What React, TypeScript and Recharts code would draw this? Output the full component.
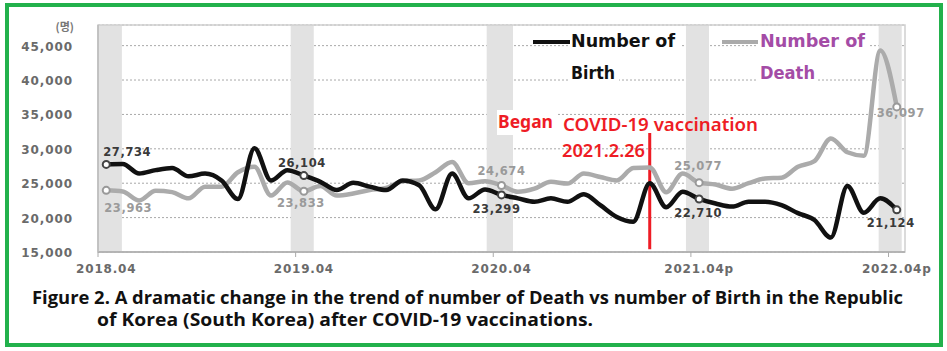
import { LineChart, Line, XAxis, YAxis, CartesianGrid, ReferenceArea, ReferenceLine } from 'recharts';

// monthly data, 2018.04 .. 2022.04 (p = provisional)
const MONTHS = [
  '2018.04', '2018.05', '2018.06', '2018.07', '2018.08', '2018.09', '2018.10', '2018.11', '2018.12', '2019.01', '2019.02', '2019.03',
  '2019.04', '2019.05', '2019.06', '2019.07', '2019.08', '2019.09', '2019.10', '2019.11', '2019.12', '2020.01', '2020.02', '2020.03',
  '2020.04', '2020.05', '2020.06', '2020.07', '2020.08', '2020.09', '2020.10', '2020.11', '2020.12', '2021.01', '2021.02', '2021.03',
  '2021.04p', '2021.05p', '2021.06p', '2021.07p', '2021.08p', '2021.09p', '2021.10p', '2021.11p', '2021.12p', '2022.01p', '2022.02p', '2022.03p',
  '2022.04p',
];

const BIRTHS = [
  27734, 27800, 26400, 26900, 27200, 26000, 26400, 25400, 22700, 30100, 25400, 26900,
  26104, 25200, 24000, 25050, 24500, 24000, 25400, 24700, 21200, 26400, 22800, 24100,
  23299, 22800, 22300, 22800, 22300, 23400, 21800, 20100, 19400, 25000, 21500, 23750,
  22710, 22050, 21600, 22300, 22300, 21800, 20650, 19650, 17100, 24600, 20700, 22800,
  21124,
];

const DEATHS = [
  23963, 23800, 22500, 23900, 23700, 22800, 24500, 24500, 26600, 27400, 23200, 25100,
  23833, 24600, 23200, 23500, 24000, 24300, 25300, 25400, 26600, 28100, 25000, 25300,
  24674, 23750, 24200, 25200, 24950, 26400, 25900, 25400, 27200, 27300, 23700, 26400,
  25077, 24800, 24200, 25000, 25700, 25800, 27400, 28200, 31500, 29500, 29000, 44300,
  36097,
];

const Y_TICKS = [15000, 20000, 25000, 30000, 35000, 40000, 45000];
const X_TICKS = [0, 12, 24, 36, 48];
const X_TICK_LABELS = ['2018.04', '2019.04', '2020.04', '2021.04p', '2022.04p'];
// grey shaded spans around each April (in month-index units)
const SHADED = [[-0.5, 0.95], [11.2, 12.6], [23.1, 24.7], [35.2, 36.6], [46.9, 48.3]];
const VACCINE_AT = 33; // where the red marker sits in the figure

const W = 947;
const PLOT_LEFT = 98;
const PLOT_RIGHT = 42;
const HALF_BAND = (W - PLOT_LEFT - PLOT_RIGHT) / MONTHS.length / 2;

const data = MONTHS.map((month, i) => ({ i, month, birth: BIRTHS[i], death: DEATHS[i] }));

// label placement around the marked points (dx, dy from the point)
const LABEL_POS: Record<string, Record<number, [number, number]>> = {
  birth: { 0: [21, -8], 12: [-2, -9], 24: [-5, 18], 36: [-1, 18], 48: [-6, 17] },
  death: { 0: [22, 22], 12: [-3, 16], 24: [0, -10], 36: [-1, -13], 48: [4, 10] },
};

const fmt = (v: number) => v.toLocaleString('en-US');

const makeDot = (key: 'birth' | 'death') => (props: any) => {
  const { cx, cy, index, value } = props;
  if (!X_TICKS.includes(index)) return <g key={`${key}-${index}`} />;
  const [dx, dy] = LABEL_POS[key][index];
  const stroke = key === 'birth' ? '#444' : '#999';
  return (
    <g key={`${key}-${index}`}>
      <circle cx={cx} cy={cy} r={3.5} fill="#fff" stroke={stroke} strokeWidth={2} />
      <text
        x={cx + dx}
        y={cy + dy}
        textAnchor="middle"
        fontFamily="DejaVu Sans"
        fontWeight="bold"
        fontSize={11.5}
        letterSpacing={0.6}
        fill={key === 'birth' ? '#3a3a3a' : '#9a9a9a'}
      >
        {fmt(Array.isArray(value) ? value[1] : value)}
      </text>
    </g>
  );
};

const XTick = (props: any) => {
  const { x, y, payload } = props;
  const label = X_TICK_LABELS[X_TICKS.indexOf(payload.value)];
  return (
    <g>
      <line x1={x - HALF_BAND} x2={x - HALF_BAND} y1={y} y2={y + 5} stroke="#aaa" />
      <text x={x} y={y + 21} textAnchor="middle" fontFamily="DejaVu Sans" fontWeight="bold" fontSize={12} letterSpacing={0.8} fill="#6a6a6a">
        {label}
      </text>
    </g>
  );
};

const YTick = (props: any) => {
  const { x, y, payload } = props;
  return (
    <text x={x - 25} y={y + 5} textAnchor="end" fontFamily="DejaVu Sans" fontWeight="bold" fontSize={12} letterSpacing={0.9} fill="#6a6a6a">
      {fmt(payload.value)}
    </text>
  );
};

export default function App() {
  return (
    <div style={{ position: 'absolute', left: 0, top: 0, width: W, height: 351, background: '#fff' }}>
      <div style={{ position: 'absolute', left: 0, top: 0 }}>
        <LineChart width={W} height={290} data={data} margin={{ top: 25, right: PLOT_RIGHT, left: 0, bottom: 0 }}>
          {SHADED.map(([a, b]) => (
            <ReferenceArea key={`band-${a}`} x1={a} x2={b} y1={15000} y2={48000} fill="#e2e2e2" fillOpacity={1} stroke="none" />
          ))}
          <CartesianGrid vertical={false} stroke="#a8a8a8" strokeDasharray="2 2" />
          <ReferenceArea x1={-0.5} x2={48.5} y1={15000} y2={48000} fill="none" fillOpacity={0} stroke="#cfcfcf" strokeWidth={1.5} />
          <XAxis
            dataKey="i"
            type="number"
            domain={[-0.5, 48.5]}
            ticks={X_TICKS}
            height={38}
            tickSize={0}
            tickMargin={0}
            tick={<XTick />}
            axisLine={{ stroke: '#aaa', strokeWidth: 1.5 }}
            interval={0}
          />
          <YAxis
            type="number"
            domain={[15000, 48000]}
            ticks={Y_TICKS}
            width={PLOT_LEFT}
            tickSize={0}
            tickMargin={0}
            tick={<YTick />}
            axisLine={{ stroke: '#bbb', strokeWidth: 1.5 }}
            interval={0}
          />
          <ReferenceLine
            segment={[{ x: VACCINE_AT, y: 32300 }, { x: VACCINE_AT, y: 15400 }]}
            stroke="#ee1c25"
            strokeWidth={3}
          />
          <Line type="monotone" dataKey="death" stroke="#ababab" strokeWidth={4.5} dot={makeDot('death')} activeDot={false} isAnimationActive={false} />
          <Line type="monotone" dataKey="birth" stroke="#111" strokeWidth={4.5} dot={makeDot('birth')} activeDot={false} isAnimationActive={false} />
        </LineChart>
      </div>

      <svg width={W} height={351} style={{ position: 'absolute', left: 0, top: 0, pointerEvents: 'none' }}>
        <text x={74} y={31} textAnchor="end" fontFamily="Noto Sans CJK KR" fontSize={11} fontWeight="bold" fill="#777">(명)</text>

        {/* legend */}
        <rect x={569} y={28} width={112} height={22} fill="#fff" />
        <rect x={569} y={60} width={50} height={22} fill="#fff" />
        <rect x={758} y={28} width={110} height={22} fill="#fff" />
        <rect x={758} y={60} width={60} height={22} fill="#fff" />
        <line x1={533} x2={570} y1={42} y2={42} stroke="#111" strokeWidth={4} />
        <text x={571} y={47} fontFamily="DejaVu Sans" fontWeight="bold" fontSize={18} textLength={104} lengthAdjust="spacingAndGlyphs" fill="#111">Number of</text>
        <text x={571} y={79} fontFamily="DejaVu Sans" fontWeight="bold" fontSize={18} textLength={44} lengthAdjust="spacingAndGlyphs" fill="#111">Birth</text>
        <line x1={722} x2={758} y1={42} y2={42} stroke="#aaa" strokeWidth={4} />
        <text x={760} y={47} fontFamily="DejaVu Sans" fontWeight="bold" fontSize={18} textLength={105} lengthAdjust="spacingAndGlyphs" fill="#a44ca6">Number of</text>
        <text x={760} y={79} fontFamily="DejaVu Sans" fontWeight="bold" fontSize={18} textLength={55} lengthAdjust="spacingAndGlyphs" fill="#a44ca6">Death</text>

        {/* vaccination annotation */}
        <rect x={497} y={110} width={60} height={25} fill="#fff" />
        <text x={498} y={128} fontFamily="Noto Sans" fontWeight="bold" fontSize={18} textLength={55} lengthAdjust="spacingAndGlyphs" fill="#ee1c25">Began</text>
        <text x={563} y={131} fontFamily="Noto Sans" fontWeight={600} fontSize={18} textLength={195} lengthAdjust="spacingAndGlyphs" fill="#ee1c25">COVID-19 vaccination</text>
        <text x={562} y={157} fontFamily="Noto Sans" fontWeight={600} fontSize={18} textLength={83} lengthAdjust="spacingAndGlyphs" fill="#ee1c25">2021.2.26</text>

        {/* caption */}
        <text x={32} y={304} fontFamily="Open Sans" fontWeight="bold" fontSize={17} textLength={871} lengthAdjust="spacingAndGlyphs" fill="#111">
          Figure 2. A dramatic change in the trend of number of Death vs number of Birth in the Republic
        </text>
        <text x={97} y={326} fontFamily="Open Sans" fontWeight="bold" fontSize={17} textLength={496} lengthAdjust="spacingAndGlyphs" fill="#111">
          of Korea (South Korea) after COVID-19 vaccinations.
        </text>
      </svg>

      <div style={{ position: 'absolute', left: 5, top: 3, width: 938, height: 344, boxSizing: 'border-box', border: '4px solid #22b14c', pointerEvents: 'none' }} />
    </div>
  );
}
